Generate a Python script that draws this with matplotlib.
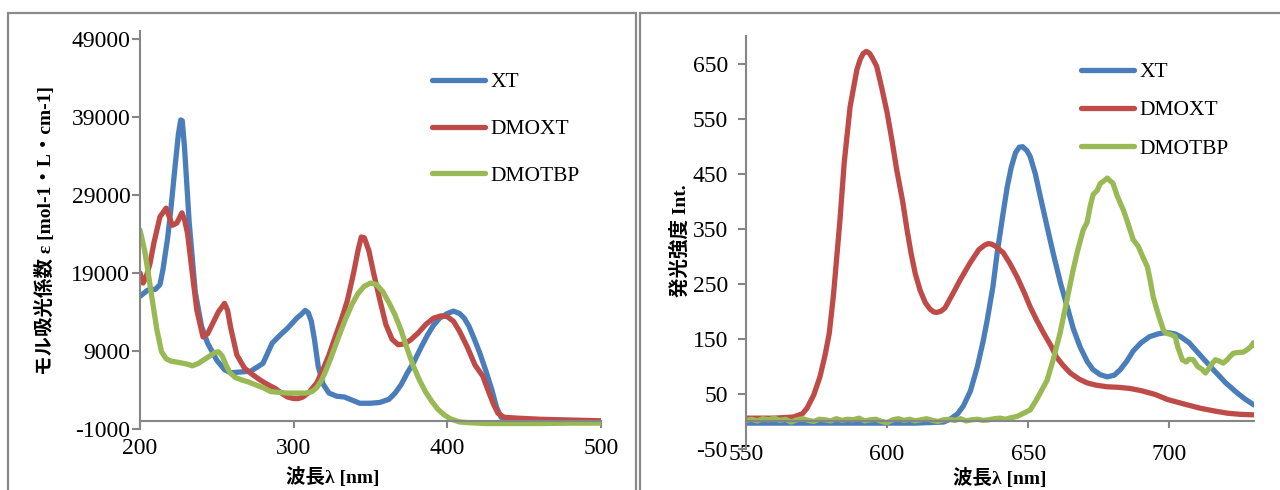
import matplotlib
matplotlib.use('Agg')
import matplotlib.pyplot as plt
import matplotlib.ticker as ticker
from matplotlib.patches import Rectangle

plt.rcParams['font.family'] = ['Liberation Serif', 'Noto Sans CJK JP']
plt.rcParams['axes.unicode_minus'] = False

BLUE = '#4a7ebb'
RED = '#be4b48'
GREEN = '#98b954'
AXIS_GRAY = '#868686'

# ---- absorption (left) ----
xt_abs_wl = [200, 205, 210, 213, 215, 218, 220, 223, 225, 226.5, 227.5, 229, 232, 236,
             240, 244, 250, 255, 259, 265, 272, 280, 286, 291, 296, 302, 305, 307.5,
             309.5, 311.5, 313.5, 316, 319, 323, 328, 333, 338, 343, 350, 356, 362, 366,
             370, 374, 378, 383, 387, 391, 395, 400, 404, 408, 411, 414, 417, 421, 425,
             429, 432, 435, 440, 450, 470, 500]
xt_abs = [16000, 16800, 16900, 17500, 19500, 23500, 27000, 33000, 36800, 38600, 38500,
          35000, 25500, 16500, 12200, 10000, 7800, 6600, 6200, 6300, 6400, 7400, 10000,
          11000, 11900, 13200, 13700, 14200, 13900, 12800, 10500, 7000, 4800, 3600, 3200,
          3100, 2700, 2300, 2300, 2400, 2800, 3600, 4700, 6200, 7500, 9500, 11000, 12300,
          13200, 13800, 14100, 13800, 13200, 12200, 10800, 8800, 6500, 4000, 1800, 500,
          0, -100, -150, -150]

dmoxt_abs_wl = [200, 202, 204, 206.5, 209, 213, 217, 219, 221, 224, 227.3, 229, 231,
                234, 237, 241, 244, 247, 251, 255, 257, 259, 263, 268, 273, 278, 283,
                288, 292, 296, 300, 303, 306, 310, 315, 319, 323, 327, 331, 335, 339,
                342, 344, 346, 349, 352, 356, 360, 364, 368, 372, 376, 381, 386, 391,
                396, 400, 404, 408, 413, 418, 423, 427, 430, 433, 437, 445, 460, 480, 500]
dmoxt_abs = [19000, 17700, 18500, 20200, 22800, 26200, 27300, 26200, 25100, 25400,
             26700, 25800, 24000, 19000, 14200, 10800, 11200, 12400, 14000, 15100, 14200,
             12000, 8500, 6800, 6000, 5300, 4700, 4200, 3600, 3100, 2900, 2900, 3100,
             3700, 4900, 6600, 8500, 10800, 13000, 15500, 19000, 22000, 23600, 23500,
             21800, 19000, 15600, 12400, 10500, 9800, 9900, 10400, 11300, 12400, 13200,
             13500, 13400, 12800, 11500, 9500, 7200, 5800, 3700, 2200, 1000, 500, 400,
             250, 150, 50]

dmotbp_abs_wl = [200, 203, 205.5, 208, 211, 214, 217, 220, 226, 231, 234, 238, 241,
                 245, 248.8, 251, 253.4, 256, 258.6, 262, 266, 271, 276, 280, 285, 290,
                 296, 302, 308, 312, 315, 318, 321, 324, 327, 330, 334, 338, 342, 346,
                 350, 354, 358, 362, 366, 370, 374, 378, 382, 386, 390, 394, 398, 402,
                 408, 415, 425, 440, 460, 480, 500]
dmotbp_abs = [24500, 21900, 18800, 15500, 11700, 8900, 8000, 7700, 7500, 7300, 7100,
              7400, 7800, 8300, 8800, 8900, 8400, 7200, 6200, 5600, 5300, 5000, 4600,
              4300, 3800, 3700, 3600, 3600, 3600, 3800, 4300, 5200, 6500, 8000, 9600,
              11200, 13200, 15000, 16400, 17300, 17700, 17500, 16600, 15200, 13600, 11600,
              9200, 7000, 5200, 3700, 2500, 1500, 800, 300, -100, -200, -300, -300, -300,
              -250, -250]

# ---- emission (right) ----
xt_em_wl = [550, 570, 590, 610, 620, 622.3, 625, 627, 629.5, 632, 634, 635.5, 637.5,
            639, 641, 642.6, 644, 645.5, 646.8, 648, 649.5, 650.7, 652.5, 654.3, 656.5,
            659, 661.5, 664, 666, 668.4, 671, 673, 675.5, 678, 680.5, 682.6, 685, 687.2,
            690, 693, 696, 698, 700, 702, 704, 707, 711, 715.6, 720, 724, 727, 730]
xt_em = [-3, -3, -3, -3, -1, 4, 14, 28, 55, 100, 145, 185, 245, 306, 375, 427, 462,
         488, 498, 499, 492, 481, 450, 408, 358, 302, 250, 205, 168, 135, 108, 94, 85,
         81, 84, 94, 110, 128, 143, 154, 159, 161, 161, 159, 154, 143, 120, 94, 70, 52,
         40, 30]

dmoxt_em_wl = [550, 560, 566.7, 570, 571.6, 574, 576.2, 578, 579.5, 581, 583.3, 584.8,
               586.9, 589.3, 590.5, 591.5, 592.6, 593.7, 594.8, 596.3, 598, 600, 601.8,
               603.4, 605.5, 607, 608.5, 610, 611.7, 613.5, 615.2, 616.5, 617.6, 619,
               620.5, 623.4, 626, 629.4, 632.5, 634.5, 635.8, 637, 638.5, 641.2, 643.5,
               646, 648.5, 650.7, 653, 655.4, 658, 660, 662.5, 664.9, 668, 670.9, 674,
               677.9, 682, 686, 690, 695, 699.3, 705, 711, 716, 720.6, 725, 730]
dmoxt_em = [6, 6, 8, 14, 24, 48, 81, 120, 160, 230, 366, 470, 572, 639, 658, 668, 672,
            669, 660, 645, 608, 561, 508, 457, 400, 350, 305, 268, 238, 216, 204, 199,
            198, 200, 206, 233, 258, 288, 312, 320, 323, 322, 318, 306, 287, 263, 235,
            208, 184, 161, 138, 117, 101, 88, 77, 70, 66, 63, 62, 60, 56, 49, 40, 32, 24,
            19, 15, 13, 12]

dmotbp_em_wl = [550, 552, 554, 556, 558, 560, 562, 564, 566, 568, 570, 572, 574, 576,
                578, 580, 582, 584, 586, 588, 590, 592, 594, 596, 598, 600, 602, 604,
                606, 608, 610, 612, 614, 616, 618, 620, 622, 624, 626, 628, 630, 632,
                634, 636, 638, 640, 642, 644, 646, 648, 650.7, 653, 656.7, 659, 661.3,
                663.5, 665.9, 667.5, 669.5, 670.9, 672, 673, 674.5, 675.5, 676.6, 678,
                679, 680, 681.5, 683.7, 685, 687.2, 689, 690.5, 692.2, 693, 694.3, 696,
                697.9, 699, 700.5, 702.1, 703, 704.6, 706, 707, 708.5, 710, 711.5,
                712.8, 714, 715, 716.3, 717.5, 719.1, 720.5, 721.5, 722.7, 724, 726.2,
                727.5, 728.7, 729.8, 730.5]
dmotbp_em = [2, 4, 1, 5, 3, 6, 2, 4, -1, 3, 5, 2, 0, 4, 3, 1, 5, 2, 4, 3, 6, 1, 3, 4,
             0, -2, 3, 5, 2, 4, 1, 3, 5, 2, 0, 3, 4, 2, 5, 1, 3, 4, 2, 3, 5, 6, 4, 7, 9,
             14, 21, 40, 75, 115, 161, 215, 275, 310, 348, 362, 392, 412, 420, 432, 436,
             442, 437, 433, 410, 384, 365, 330, 318, 300, 281, 262, 226, 196, 166, 160,
             158, 154, 135, 112, 108, 113, 112, 100, 95, 88, 96, 104, 112, 110, 106, 112,
             118, 124, 125, 126, 130, 135, 143, 137]

fig = plt.figure(figsize=(12.8, 4.9), dpi=100)

# panel frames
fig.add_artist(Rectangle((8 / 1280, -0.1), (636 - 8) / 1280, 1.1 - 13 / 490,
                         transform=fig.transFigure, fill=False,
                         edgecolor='#8a8a8a', linewidth=1.6))
fig.add_artist(Rectangle((640 / 1280, -0.1), 0.6, 1.1 - 13 / 490,
                         transform=fig.transFigure, fill=False,
                         edgecolor='#8a8a8a', linewidth=1.6))

ax1 = fig.add_axes([140 / 1280, 1 - 429 / 490, (601 - 140) / 1280, (429 - 31) / 490])
ax2 = fig.add_axes([746 / 1280, 1 - 449 / 490, (1254 - 746) / 1280, (449 - 36) / 490])

lw = 3.8
for ax, series in [
    (ax1, [(xt_abs_wl, xt_abs, BLUE), (dmoxt_abs_wl, dmoxt_abs, RED),
           (dmotbp_abs_wl, dmotbp_abs, GREEN)]),
    (ax2, [(xt_em_wl, xt_em, BLUE), (dmoxt_em_wl, dmoxt_em, RED),
           (dmotbp_em_wl, dmotbp_em, GREEN)]),
]:
    for (wl, val, col), name in zip(series, ['XT', 'DMOXT', 'DMOTBP']):
        ax.plot(wl, val, color=col, lw=lw, label=name,
                solid_joinstyle='round', solid_capstyle='round')

ax1.set_xlim(200, 500)
ax1.set_ylim(-1000, 50000)
ax1.xaxis.set_major_locator(ticker.FixedLocator([200, 300, 400, 500]))
ax1.yaxis.set_major_locator(ticker.FixedLocator([-1000, 9000, 19000, 29000, 39000, 49000]))

ax2.set_xlim(550, 730)
ax2.set_ylim(-50, 700)
ax2.xaxis.set_major_locator(ticker.FixedLocator([550, 600, 650, 700]))
ax2.yaxis.set_major_locator(ticker.FixedLocator([-50, 50, 150, 250, 350, 450, 550, 650]))

for ax, xpad, ypad in [(ax1, 7, 1), (ax2, 11, 7)]:
    ax.patch.set_alpha(0)
    ax.spines['top'].set_visible(False)
    ax.spines['right'].set_visible(False)
    ax.spines['left'].set_color(AXIS_GRAY)
    ax.spines['bottom'].set_color(AXIS_GRAY)
    ax.spines['left'].set_linewidth(1.5)
    ax.spines['bottom'].set_linewidth(1.5)
    ax.spines['bottom'].set_position(('data', 0))
    ax.tick_params(axis='x', direction='out', length=5, width=1.5, color=AXIS_GRAY,
                   labelsize=17, pad=xpad)
    ax.tick_params(axis='y', direction='out', length=6, width=1.5, color=AXIS_GRAY,
                   labelsize=17, pad=ypad)

ax1.legend(loc='upper left', bbox_to_anchor=(432 / 1280, 1 - 72 / 490),
           bbox_transform=fig.transFigure, frameon=False, fontsize=15.5,
           handlelength=2.45, handletextpad=0.25, labelspacing=1.25, borderpad=0,
           borderaxespad=0)
ax2.legend(loc='upper left', bbox_to_anchor=(1081 / 1280, 1 - 62 / 490),
           bbox_transform=fig.transFigure, frameon=False, fontsize=15.5,
           handlelength=2.45, handletextpad=0.25, labelspacing=0.85, borderpad=0,
           borderaxespad=0)

fig.text(333 / 1280, 1 - 477 / 490, '波長λ [nm]', ha='center', va='center',
         fontsize=14, fontweight='bold')
fig.text(1000 / 1280, 1 - 478 / 490, '波長λ [nm]', ha='center', va='center',
         fontsize=14, fontweight='bold')
fig.text(45 / 1280, 1 - 230 / 490, 'モル吸光係数 ε [mol-1・L・cm-1]', ha='center',
         va='center', rotation=90, fontsize=14, fontweight='bold')
fig.text(680 / 1280, 1 - 241 / 490, '発光強度 Int.', ha='center', va='center',
         rotation=90, fontsize=14, fontweight='bold')

fig.savefig('out.png', dpi=100)
